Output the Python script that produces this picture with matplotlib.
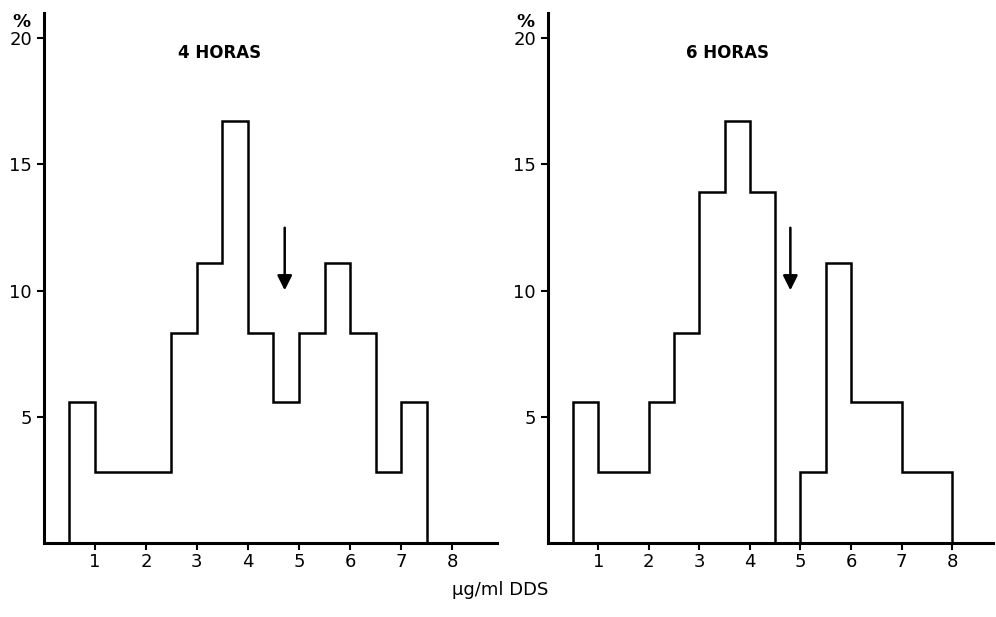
import numpy as np
import matplotlib
matplotlib.use("Agg")
import matplotlib.pyplot as plt

# bin edges (ug/ml DDS) and percentages
edges_4h = [0.5, 1.0, 1.5, 2.0, 2.5, 3.0, 3.5, 4.0, 4.5, 5.0, 5.5, 6.0, 6.5, 7.0, 7.5]
pct_4h = [5.6, 2.8, 2.8, 2.8, 8.3, 11.1, 16.7, 8.3, 5.6, 8.3, 11.1, 8.3, 2.8, 5.6]

edges_6h = [0.5, 1.0, 2.0, 2.5, 3.0, 3.5, 4.0, 4.5, 5.0, 5.5, 6.0, 6.5, 7.0, 8.0]
pct_6h = [5.6, 2.8, 5.6, 8.3, 13.9, 16.7, 13.9, 0, 2.8, 11.1, 5.6, 5.6, 2.8]

arrow_4h = 4.72
arrow_6h = 4.8

x_ticks = [1, 2, 3, 4, 5, 6, 7, 8]
y_ticks = [5, 10, 15, 20]

plt.rcParams["font.family"] = ["DejaVu Sans"]

fig = plt.figure(figsize=(9.96, 6.17), dpi=100)
ax1 = fig.add_axes([0.044, 0.12, 0.455, 0.859])
ax2 = fig.add_axes([0.550, 0.12, 0.447, 0.859])

panels = [
    (ax1, edges_4h, pct_4h, arrow_4h, "4 HORAS", 8.88, 3.45),
    (ax2, edges_6h, pct_6h, arrow_6h, "6 HORAS", 8.81, 3.55),
]

for ax, edges, pct, arr, title, xmax, tx in panels:
    ax.stairs(pct, edges, baseline=0, fill=False, color="black", linewidth=1.8)
    ax.set_xlim(0, xmax)
    ax.set_ylim(0, 21)
    ax.set_xticks(x_ticks)
    ax.set_yticks(y_ticks)
    ax.tick_params(axis="both", direction="out", length=5, width=1.5,
                   labelsize=13, colors="black")
    ax.tick_params(axis="x", pad=2)
    for s in ["top", "right"]:
        ax.spines[s].set_visible(False)
    for s in ["left", "bottom"]:
        ax.spines[s].set_linewidth(2.2)
    ax.annotate("", xy=(arr, 9.9), xytext=(arr, 12.6),
                arrowprops=dict(arrowstyle="-|>", color="black", lw=1.8,
                                mutation_scale=22))
    ax.text(tx, 19.4, title, ha="center", va="center", fontsize=12,
            fontweight="bold")
    ax.text(-0.05, 1.0, "%", transform=ax.transAxes, ha="center",
            va="top", fontsize=13, fontweight="bold")

fig.text(0.502, 0.043, "μg/ml DDS", ha="center", va="center", fontsize=13)

fig.savefig("out.png", dpi=100, facecolor="white")
